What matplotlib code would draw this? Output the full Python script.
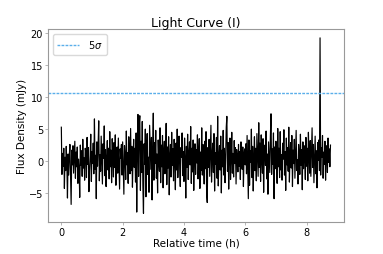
import numpy as np
import matplotlib
matplotlib.use("Agg")
import matplotlib.pyplot as plt

# Sampling of the light curve (h)
t_step = 0.02

# Flux density samples (mJy)
flux = [
    5.3, -2.1, 1.2, -0.8, 2.0, -4.3, 0.6, -1.5, 2.3, -0.4, -5.8, 1.1, -2.2, 0.9, 2.6, -1.8, -6.8, 1.7, -0.6, 2.4,
    -1.9, 0.8, 3.1, -2.7, 1.4, -0.9, 2.2, -3.5, 0.3, -1.2, -5.7, 2.5, -0.7, 1.6, -2.4, 3.4, -1.1, 0.5, -3.0, 2.0,
    1.3, -2.6, 3.7, -0.5, 2.1, -4.8, -1.7, 0.8, 4.2, -3.2, 1.5, -0.4, 2.8, -2.0, 6.6, -1.3, 0.9, -5.9, 3.0, -0.8,
    2.4, 6.3, -3.1, 1.0, -1.6, 3.9, -0.2, -3.6, 2.7, 0.4, 5.5, -2.3, 1.8, -4.0, 0.6, 3.2, -1.4, 2.0, -2.8, 4.6,
    -0.9, 1.7, -3.4, 3.5, 0.2, -2.5, 2.9, -1.0, 4.1, -3.8, 0.7, 2.2, -1.9, 3.6, -0.3, -4.4, 1.9, 0.4, 2.6, -2.2,
    3.0, -1.2, -5.2, 2.4, 0.9, -2.9, 4.7, -0.6, 1.3, -3.5, 3.8, 0.1, -2.0, 5.1, -1.5, 2.3, -4.1, 0.8, 3.4, -1.0,
    2.0, -3.3, 4.4, -8.0, 1.6, 7.3, -2.4, 5.8, 7.1, -4.6, 3.1, -1.8, 6.2, -3.9, -8.2, 2.7, -0.5, 5.0, -5.6, 1.4,
    4.3, -2.1, 0.6, -4.9, 5.6, 2.2, -1.3, 3.7, -6.1, 1.8, 7.5, -3.0, 2.9, -0.4, 4.8, -2.7, 1.1, -5.0, 3.3, 0.2,
    -1.6, 5.2, -3.4, 2.5, -0.9, 4.0, -4.2, 1.3, 3.1, -2.0, 0.5, 5.9, -3.7, 2.2, -1.1, 3.8, -5.3, 0.9, 2.6, -2.5,
    4.5, -0.7, 1.9, -3.1, 3.4, 0.3, -4.5, 2.8, -1.4, 5.0, -2.6, 1.2, 3.9, -0.8, -4.0, 2.1, 0.6, 4.4, -2.3, 1.5,
    -3.2, 3.6, 0.4, -5.8, 2.3, -1.0, 4.2, -2.9, 1.1, 3.0, -0.6, 5.4, -3.5, 2.0, -1.7, 3.3, -4.6, 0.8, 2.7, -2.1,
    1.8, -0.3, 4.1, -2.8, 0.7, 3.5, -4.3, 1.4, -1.5, 5.2, -2.2, 2.6, 0.0, -3.6, 3.1, -1.2, 4.6, -5.1, -6.5, 2.1,
    -1.0, 3.4, -2.4, 1.6, 5.6, -3.3, 0.9, 2.8, -1.8, 4.3, -4.7, 1.3, -0.5, 3.7, -2.7, 7.0, -3.9, 0.6, 2.4, -1.4,
    3.9, -5.0, 1.7, -0.9, 4.8, -2.2, 2.0, -3.4, 0.5, 5.3, 7.0, -1.6, 2.9, -4.4, 1.0, 3.6, -2.9, 0.2, 4.5, -1.9,
    1.2, -2.5, 3.2, -0.4, 2.1, -3.6, 1.8, 0.3, -1.7, 2.6, -0.8, 1.5, -2.9, 3.0, 0.4, -1.3, 2.2, -4.0, 0.9, 1.9,
    -0.6, 2.7, -2.0, 4.0, -1.1, -5.9, 3.3, -3.8, 1.6, -0.2, 5.0, -2.6, 2.3, -4.7, 0.5, 3.8, -1.5, 2.0, -3.1, 4.3,
    0.7, -2.4, 6.0, -1.0, 2.8, -3.2, 4.1, 0.1, -1.9, 3.5, -4.9, 1.4, 2.5, -0.7, 4.7, -2.8, 1.1, -5.2, 3.0, 0.6,
    -1.8, 3.9, 7.4, -2.1, 1.9, -0.5, 4.4, -5.9, 2.2, -1.2, 3.1, 0.4, -3.5, 5.1, -0.9, 2.0, -2.6, 4.6, -1.4, 1.0,
    -3.0, 2.8, 0.3, 4.9, -2.2, 1.5, -4.6, 3.6, -0.6, 2.1, -1.6, 5.3, -3.3, 0.8, 2.9, -1.1, 4.0, -4.0, 1.7, -0.4,
    3.4, -2.7, 1.2, 4.8, -1.5, 0.2, -3.6, 2.6, 0.9, -2.1, 4.2, -0.7, 1.8, -4.5, 3.0, -1.2, 2.4, 0.5, -2.9, 3.7,
    -0.8, 2.0, -3.1, 4.5, 0.7, -1.9, 3.2, -2.4, 1.3, 5.2, -1.0, 2.6, -3.4, 0.4, 3.9, -2.0, 1.6, -4.2, 2.9, 0.1,
    3.3, -1.5, 19.3, -2.2, 2.1, 0.6, 4.0, -2.7, 1.4, -0.5, 3.1, -3.0, 2.4, 0.9, -1.8, 3.6, -0.2, 1.9, -0.9, 2.5,
]

# 5 sigma threshold (mJy)
threshold = 10.7

times = np.arange(len(flux)) * t_step

fig = plt.figure(figsize=(3.83, 2.55), dpi=100)
ax = fig.add_axes([0.125, 0.125, 0.773, 0.757])

ax.plot(times, flux, color="black", linewidth=0.85)
ax.axhline(threshold, color="#5aaeea", linestyle="--", linewidth=1.0,
           dashes=(2.0, 0.9), label=r"5$\sigma$")

ax.set_title("Light Curve (I)", fontsize=9, pad=2.5)
ax.set_xlabel("Relative time (h)", fontsize=7.5, labelpad=0.5)
ax.set_ylabel("Flux Density (mJy)", fontsize=7.5, labelpad=1.5)
ax.set_xticks([0, 2, 4, 6, 8])
ax.set_yticks([-5, 0, 5, 10, 15, 20])
ax.tick_params(labelsize=7, length=2, width=0.5, pad=1.5, color="0.6")
for s in ax.spines.values():
    s.set_color("0.6")
    s.set_linewidth(0.8)

ax.legend(loc="upper left", fontsize=7, handlelength=2.3, borderpad=0.45,
          handletextpad=0.9, framealpha=1, edgecolor="0.85")

fig.savefig("out.png", dpi=100)
